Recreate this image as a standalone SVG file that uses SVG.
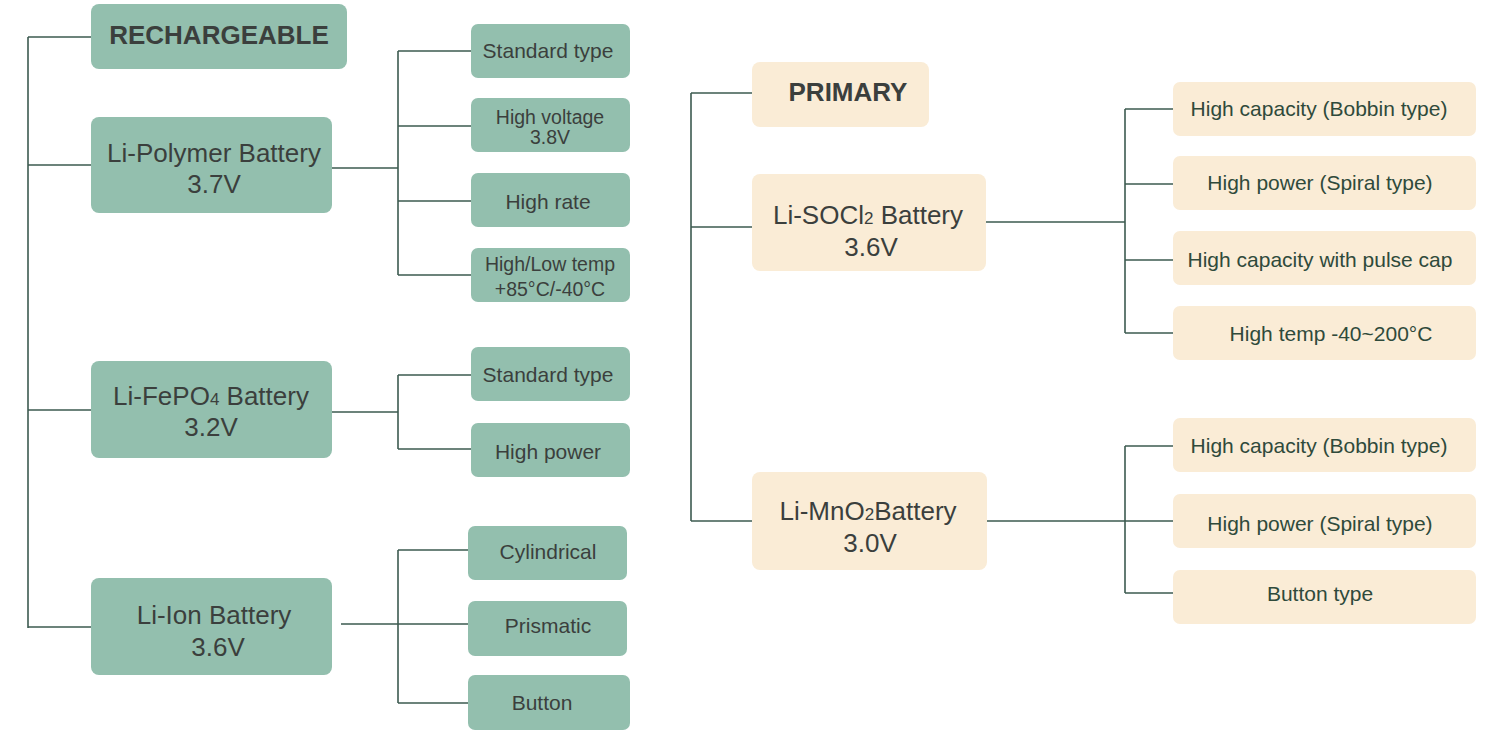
<svg xmlns="http://www.w3.org/2000/svg" width="1494" height="732" viewBox="0 0 1494 732">
<style>
.g{fill:#93bfae}
.b{fill:#faecd6}
.t{font-family:"Liberation Sans",Arial,sans-serif;text-anchor:middle;fill:#3b3f3d}
.ts{font-family:"Liberation Sans",Arial,sans-serif;text-anchor:middle;fill:#2f4a3b}
.h{font-size:26px;font-weight:bold}
.m{font-size:26px}
.s{font-size:21px}
.s2{font-size:19.5px}
.c{fill:none;stroke:#3d5b50;stroke-width:1.6}
</style>
<rect width="1494" height="732" fill="#ffffff"/>
<g id="connectors">
<path class="c" d="M28,37V628M28,37H91M28,165H91M28,410H91M28,627H91"/>
<path class="c" d="M332,168H398M398,51V275M398,51H471M398,126H471M398,201H471M398,275H471"/>
<path class="c" d="M332,412H398M398,375V449M398,375H471M398,449H471"/>
<path class="c" d="M341,624H468M398,550V703M398,550H468M398,703H468"/>
<path class="c" d="M691,93V521M691,93H752M691,227H752M691,521H752"/>
<path class="c" d="M986,222H1125M1125,109V333M1125,109H1173M1125,184H1173M1125,260H1173M1125,333H1173"/>
<path class="c" d="M987,521H1173M1125,446V593M1125,446H1173M1125,593H1173"/>
</g>
<g id="rechargeable"><rect class="g" x="91" y="4" width="256" height="65" rx="8"/><text class="t h" x="219" y="44">RECHARGEABLE</text></g>
<g id="li-polymer"><rect class="g" x="91" y="117" width="241" height="96" rx="8"/><text class="t m" x="214" y="162">Li-Polymer Battery</text><text class="t m" x="214" y="193">3.7V</text></g>
<g id="lp-standard"><rect class="g" x="471" y="24" width="159" height="54" rx="7"/><text class="t s" x="548" y="58">Standard type</text></g>
<g id="lp-highvoltage"><rect class="g" x="471" y="98" width="159" height="54" rx="7"/><text class="t s2" x="550" y="124">High voltage</text><text class="t s2" x="550" y="144">3.8V</text></g>
<g id="lp-highrate"><rect class="g" x="471" y="173" width="159" height="54" rx="7"/><text class="t s" x="548" y="209">High rate</text></g>
<g id="lp-temp"><rect class="g" x="471" y="248" width="159" height="54" rx="7"/><text class="t s2" x="550" y="271">High/Low temp</text><text class="t s2" x="550" y="296">+85°C/-40°C</text></g>
<g id="li-fepo4"><rect class="g" x="91" y="361" width="241" height="97" rx="8"/><text class="t m" x="211" y="405">Li-FePO<tspan font-size="17">4</tspan> Battery</text><text class="t m" x="211" y="436">3.2V</text></g>
<g id="fp-standard"><rect class="g" x="471" y="347" width="159" height="54" rx="7"/><text class="t s" x="548" y="382">Standard type</text></g>
<g id="fp-highpower"><rect class="g" x="471" y="423" width="159" height="54" rx="7"/><text class="t s" x="548" y="459">High power</text></g>
<g id="li-ion"><rect class="g" x="91" y="578" width="241" height="97" rx="8"/><text class="t m" x="214" y="624">Li-Ion Battery</text><text class="t m" x="218" y="656">3.6V</text></g>
<g id="li-cylindrical"><rect class="g" x="468" y="526" width="159" height="54" rx="7"/><text class="t s" x="548" y="559">Cylindrical</text></g>
<g id="li-prismatic"><rect class="g" x="468" y="601" width="159" height="55" rx="7"/><text class="t s" x="548" y="633">Prismatic</text></g>
<g id="li-button"><rect class="g" x="468" y="675" width="162" height="55" rx="7"/><text class="t s" x="542" y="710">Button</text></g>
<g id="primary"><rect class="b" x="752" y="62" width="177" height="65" rx="8"/><text class="t h" x="848" y="101">PRIMARY</text></g>
<g id="li-socl2"><rect class="b" x="752" y="174" width="234" height="97" rx="8"/><text class="t m" x="868" y="224">Li-SOCl<tspan font-size="17">2</tspan> Battery</text><text class="t m" x="871" y="256">3.6V</text></g>
<g id="sc-bobbin"><rect class="b" x="1173" y="82" width="303" height="54" rx="7"/><text class="ts s" x="1319" y="116">High capacity (Bobbin type)</text></g>
<g id="sc-spiral"><rect class="b" x="1173" y="156" width="303" height="54" rx="7"/><text class="ts s" x="1320" y="190">High power (Spiral type)</text></g>
<g id="sc-pulse"><rect class="b" x="1173" y="231" width="303" height="54" rx="7"/><text class="ts s" x="1320" y="267">High capacity with pulse cap</text></g>
<g id="sc-hightemp"><rect class="b" x="1173" y="306" width="303" height="54" rx="7"/><text class="ts s" x="1331" y="341">High temp -40~200°C</text></g>
<g id="li-mno2"><rect class="b" x="752" y="472" width="235" height="98" rx="8"/><text class="t m" x="868" y="520">Li-MnO<tspan font-size="17">2</tspan>Battery</text><text class="t m" x="870" y="552">3.0V</text></g>
<g id="mn-bobbin"><rect class="b" x="1173" y="418" width="303" height="54" rx="7"/><text class="ts s" x="1319" y="453">High capacity (Bobbin type)</text></g>
<g id="mn-spiral"><rect class="b" x="1173" y="494" width="303" height="54" rx="7"/><text class="ts s" x="1320" y="531">High power (Spiral type)</text></g>
<g id="mn-button"><rect class="b" x="1173" y="570" width="303" height="54" rx="7"/><text class="ts s" x="1320" y="601">Button type</text></g>
</svg>
